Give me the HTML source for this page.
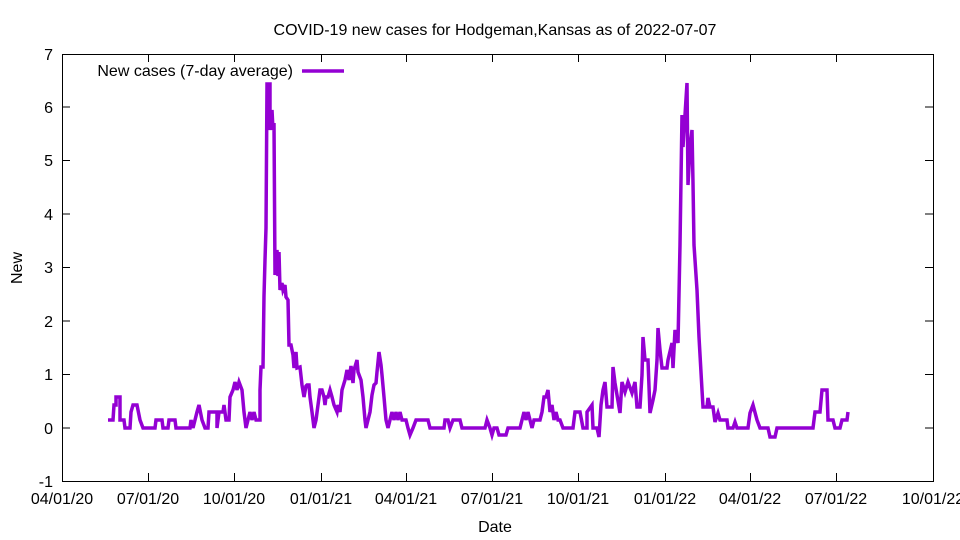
<!DOCTYPE html>
<html><head><meta charset="utf-8"><style>
html,body{margin:0;padding:0;background:#fff;}
svg{display:block;font-family:"Liberation Sans",sans-serif;}
</style></head><body>
<svg width="960" height="540" viewBox="0 0 960 540">
<rect width="960" height="540" fill="#fff"/>
<text x="495" y="35" font-size="16" text-anchor="middle">COVID-19 new cases for Hodgeman,Kansas as of 2022-07-07</text>
<g stroke="#000" stroke-width="1" fill="none">
<rect x="62.5" y="54.5" width="871" height="427"/>
<path d="M62 481.5h8M62 428h8M62 374.5h8M62 321h8M62 267.5h8M62 214h8M62 160.5h8M62 107h8M62 54.5h8
M933 481.5h-8M933 428h-8M933 374.5h-8M933 321h-8M933 267.5h-8M933 214h-8M933 160.5h-8M933 107h-8
M148.5 481v-8M234.5 481v-8M321.5 481v-8M406.5 481v-8M492.5 481v-8M578.5 481v-8M665.5 481v-8M750.5 481v-8M836.5 481v-8
M148.5 54v8M234.5 54v8M321.5 54v8M406.5 54v8M492.5 54v8M578.5 54v8M665.5 54v8M750.5 54v8M836.5 54v8"/>
</g>
<g font-size="16" text-anchor="end">
<text x="53" y="487">-1</text><text x="53" y="434">0</text><text x="53" y="380">1</text><text x="53" y="327">2</text><text x="53" y="273">3</text><text x="53" y="220">4</text><text x="53" y="166">5</text><text x="53" y="113">6</text><text x="53" y="60">7</text>
</g>
<g font-size="16" text-anchor="middle">
<text x="62" y="504">04/01/20</text><text x="148" y="504">07/01/20</text><text x="234" y="504">10/01/20</text><text x="321" y="504">01/01/21</text><text x="406" y="504">04/01/21</text><text x="492" y="504">07/01/21</text><text x="578" y="504">10/01/21</text><text x="665" y="504">01/01/22</text><text x="750" y="504">04/01/22</text><text x="836" y="504">07/01/22</text><text x="933" y="504">10/01/22</text>
<text x="495" y="532">Date</text>
<text transform="translate(22,268) rotate(-90)">New</text>
</g>
<text x="293" y="76" font-size="16" text-anchor="end">New cases (7-day average)</text>
<line x1="302" y1="71" x2="344" y2="71" stroke="#9400d3" stroke-width="3.5"/>
<polyline fill="none" stroke="#9400d3" stroke-width="3.5" stroke-linejoin="miter" points="
108,420 113,420 114,405 116,405 116,397 120,397 120,420 124,420 125,428 130,428 131,412 133,405 137,405 140,420 143,428 155,428 156,420 162,420 163,428 168,428 169,420 175,420 176,428 190,428 191,420 193,428 195,420 197,412 199,405 202,420 205,428 208,428 209,412 217,412 217,428 219,412 223,412 224,405 226,420 229,420 230,397 233,390 235,382 237,390 239,382 242,390 244,412 246,428 248,420 250,412 252,420 254,412 256,420 260,420 260,390 261,367 263,367 264,296 265,260 266,228 267,84 270,84 270,130 272,110 273,130 274,123 275,275 277,250 278,276 279,252 280,290 282,283 283,290 285,285 286,297 288,300 289,345 291,345 293,355 294,368 296,352 297,368 300,367 302,385 304,397 306,386 307,385 309,385 310,397 312,412 313,420 314,428 316,420 318,405 320,390 322,390 324,397 325,405 326,397 328,397 330,390 332,397 334,405 337,412 338,405 340,412 342,390 345,380 347,370 349,380 351,366 353,383 354,370 357,360 358,372 361,380 363,397 365,420 366,428 368,420 370,412 372,395 374,385 376,383 377,372 379,352 381,365 382,375 384,397 386,420 388,428 390,420 392,412 394,420 396,412 398,420 400,412 402,420 406,420 408,428 410,435 413,428 416,420 428,420 430,428 444,428 445,420 448,420 450,428 453,420 460,420 462,428 485,428 487,420 490,428 492,435 494,428 497,428 499,435 506,435 508,428 520,428 522,420 524,412 526,420 528,412 530,420 532,428 534,420 540,420 542,412 544,397 546,397 548,390 550,412 552,405 554,420 556,412 558,420 560,420 563,428 573,428 575,412 580,412 583,428 587,428 587,412 592,405 593,428 597,428 599,437 601,405 603,390 605,382 607,407 612,407 613,367 615,383 620,413 622,382 625,392 628,382 632,393 635,382 637,407 640,407 642,375 643,337 645,360 648,360 650,413 653,400 655,390 657,360 658,328 660,350 662,368 667,368 668,360 672,343 673,368 675,330 678,343 680,245 682,115 683,147 685,115 687,83 688,185 690,147 692,130 693,183 694,245 697,290 699,337 702,390 703,407 707,407 708,398 710,407 713,407 715,422 718,413 720,420 727,420 728,428 733,428 735,422 737,428 748,428 750,413 753,405 757,420 760,428 768,428 770,437 775,437 777,428 813,428 815,412 820,412 822,390 827,390 828,420 833,420 835,428 840,428 842,420 847,420 848,412"/>
</svg>
</body></html>
